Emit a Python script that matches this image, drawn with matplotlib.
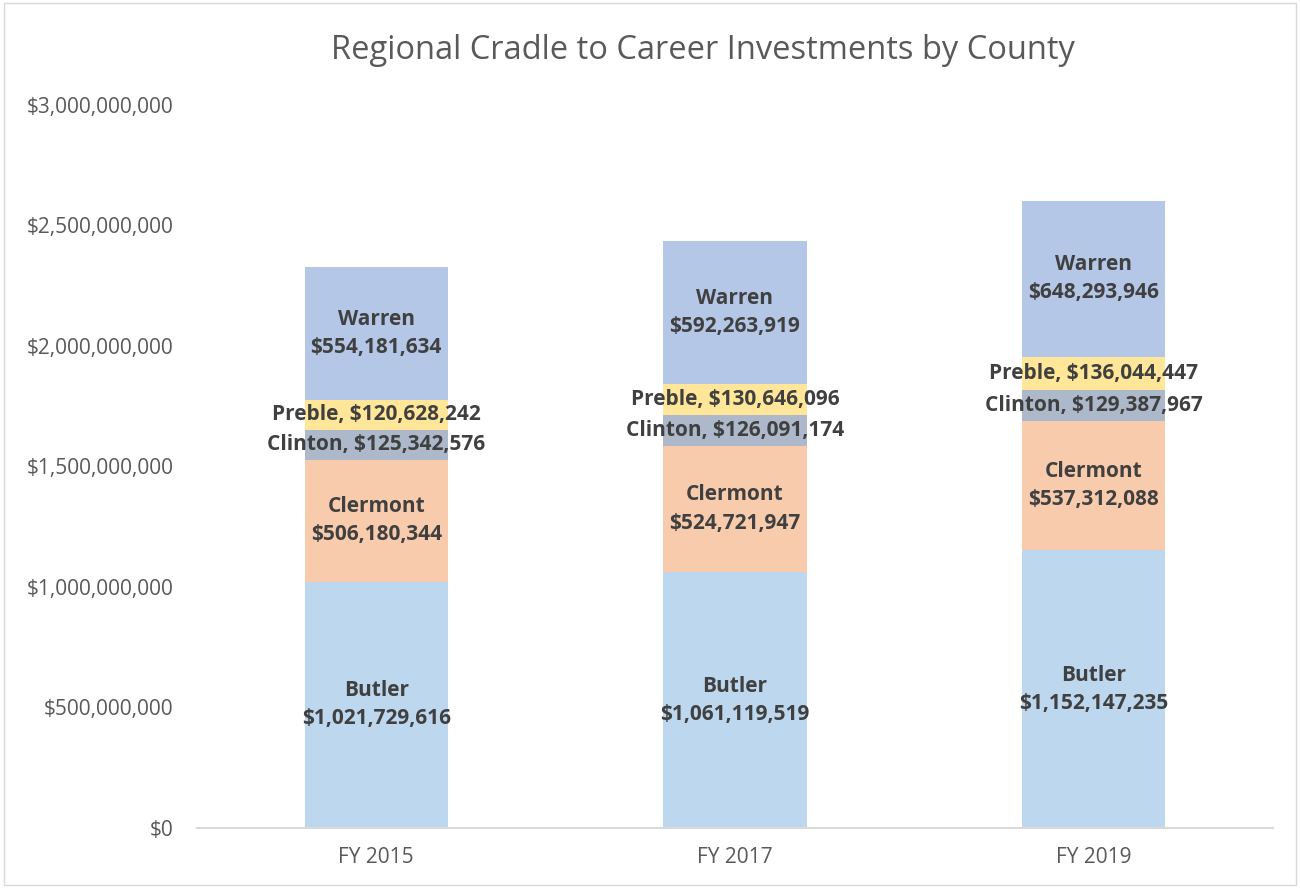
import numpy as np
import matplotlib.pyplot as plt
from matplotlib.ticker import FuncFormatter
from matplotlib.patches import Rectangle

years = ['FY 2015', 'FY 2017', 'FY 2019']
counties = ['Butler', 'Clermont', 'Clinton', 'Preble', 'Warren']
butler = [1021729616, 1061119519, 1152147235]
clermont = [506180344, 524721947, 537312088]
clinton = [125342576, 126091174, 129387967]
preble = [120628242, 130646096, 136044447]
warren = [554181634, 592263919, 648293946]
colors = ['#BDD7EE', '#F8CBAD', '#ADB9CA', '#FFE699', '#B4C7E7']

series = [butler, clermont, clinton, preble, warren]
inline = {'Clinton', 'Preble'}

plt.rcParams['font.family'] = ['Open Sans', 'DejaVu Sans']
fig = plt.figure(figsize=(13, 8.88), dpi=100)
ax = fig.add_axes([0.1515, 0.0676, 0.8275, 0.8142])

x = np.arange(len(years))
bottom = np.zeros(len(years))
for name, vals, col in zip(counties, series, colors):
    vals = np.array(vals, dtype=float)
    ax.bar(x, vals, 0.4, bottom=bottom, color=col, edgecolor='none', zorder=2)
    for xi, b, v in zip(x, bottom, vals):
        if name in inline:
            txt = f'{name}, ${v:,.0f}'
        else:
            txt = f'{name}\n${v:,.0f}'
        ax.text(xi, b + v / 2, txt, ha='center', va='center', fontsize=15,
                fontweight='bold', color='#404040', linespacing=1.45, zorder=3)
    bottom += vals

ax.set_xlim(-0.5, 2.5)
ax.set_ylim(0, 3e9)
ax.set_yticks(np.arange(0, 3.01e9, 5e8))
ax.yaxis.set_major_formatter(FuncFormatter(lambda v, p: f'${v:,.0f}'))
ax.set_xticks(x)
ax.set_xticklabels(years)
ax.tick_params(length=0, labelsize=15, colors='#595959')
ax.tick_params(axis='y', pad=17)
ax.tick_params(axis='x', pad=14)
for s in ['top', 'right', 'left']:
    ax.spines[s].set_visible(False)
ax.spines['bottom'].set_color('#D9D9D9')
ax.spines['bottom'].set_linewidth(1.5)

fig.suptitle('Regional Cradle to Career Investments by County', x=0.541, y=0.962,
             fontsize=23.5, color='#595959')
fig.patches.append(Rectangle((0.003, 0.003), 0.994, 0.994, transform=fig.transFigure,
                             fill=False, edgecolor='#D9D9D9', linewidth=1))

fig.savefig('out.png', dpi=100)
